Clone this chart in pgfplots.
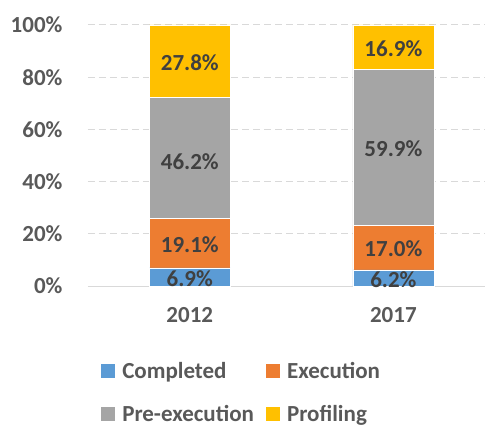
\documentclass[border=0pt]{standalone}
\usepackage{fontspec}
\setmainfont{Carlito}
\usepackage{pgfplots}
\pgfplotsset{compat=1.18}
\definecolor{cBlue}{HTML}{5B9BD5}
\definecolor{cOrange}{HTML}{ED7D31}
\definecolor{cGray}{HTML}{A5A5A5}
\definecolor{cYellow}{HTML}{FFC000}
\definecolor{txt}{HTML}{595959}
\definecolor{lbl}{HTML}{404040}
\definecolor{gridc}{HTML}{D9D9D9}
\newcommand{\ff}{\fontsize{23bp}{27bp}\selectfont\bfseries}
\begin{document}
\begin{tikzpicture}
\begin{axis}[
  name=ax,
  scale only axis,
  width=397bp, height=261bp,
  xmin=-0.5, xmax=1.45,
  ymin=0, ymax=100,
  ybar stacked,
  bar width=81bp,
  axis x line*=bottom,
  axis y line*=left,
  x axis line style={draw=gridc, line width=1bp},
  y axis line style={draw=none},
  xtick={0,1},
  xticklabels={2012,2017},
  ytick={0,20,40,60,80,100},
  yticklabel={\pgfmathprintnumber{\tick}\%},
  /pgf/number format/assume math mode=true,
  major tick length=0pt,
  tick style={draw=none},
  ymajorgrids,
  grid style={draw=gridc, line width=1bp, dash pattern=on 7bp off 4bp},
  yticklabel style={font=\ff, text=txt, xshift=-22bp},
  xticklabel style={font=\ff, text=txt, yshift=-18bp},
  legend columns=2,
  legend cell align=left,
  legend style={draw=none, font=\ff, text=txt, at={(axis description cs:0.0,-0.275)}, anchor=north west, xshift=10bp,
    /tikz/every even column/.append style={column sep=10bp}, row sep=22bp},
  legend image code/.code={\path (0bp,0bp) -- (18.5bp,0bp);\fill[#1,draw=none] (0bp,-7bp) rectangle (14bp,7bp);},
]
\addplot[fill=cBlue, draw=white, line width=0.6bp] coordinates {(0,6.9) (1,6.2)};
\addplot[fill=cOrange, draw=white, line width=0.6bp] coordinates {(0,19.1) (1,17.0)};
\addplot[fill=cGray, draw=white, line width=0.6bp] coordinates {(0,46.2) (1,59.9)};
\addplot[fill=cYellow, draw=white, line width=0.6bp] coordinates {(0,27.8) (1,16.9)};
\legend{Completed,Execution,Pre-execution,Profiling}
\end{axis}
\begin{axis}[
  scale only axis,
  width=397bp, height=261bp,
  xmin=-0.5, xmax=1.45,
  ymin=0, ymax=100,
  hide axis,
  clip=false,
]
\addplot[draw=none, mark=none, nodes near coords, point meta=explicit symbolic,
  nodes near coords style={anchor=center, font=\ff, text=lbl, yshift=-1.5bp}]
  table[meta=label, row sep=\\] {
  x y label\\
  0 3.45 6.9\%\\
  0 16.45 19.1\%\\
  0 48.1 46.2\%\\
  0 86.1 27.8\%\\
  1 3.1 6.2\%\\
  1 14.7 17.0\%\\
  1 53.15 59.9\%\\
  1 91.55 16.9\%\\
};
\end{axis}
\pgfresetboundingbox
\path ([xshift=-88bp,yshift=-140bp]ax.south west) rectangle ([yshift=25bp]ax.north east);
\end{tikzpicture}
\end{document}
